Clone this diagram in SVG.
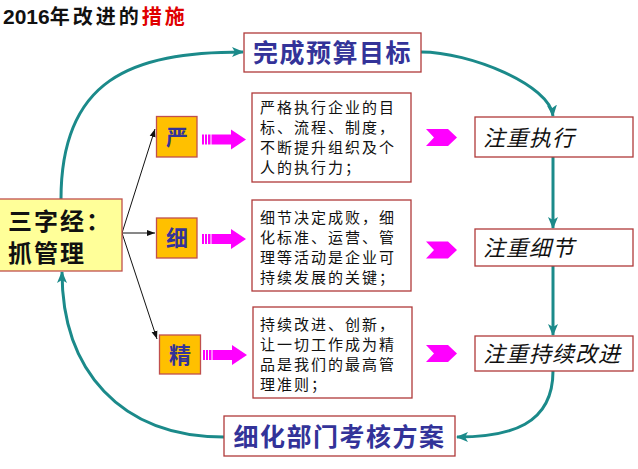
<svg xmlns="http://www.w3.org/2000/svg" width="638" height="469" viewBox="0 0 638 469">
<style>
.box{fill:#fff;stroke:#B03A3A;stroke-width:1.3}
.ybox{fill:#FFFF99;stroke:#C0504D;stroke-width:1.3}
.obox{fill:#FFC000;stroke:#C0504D;stroke-width:1.3}
.cjk{font-family:"Noto Sans CJK SC","Liberation Sans",sans-serif}
.blue{fill:#333399;font-weight:bold}
.body{font-size:15px;letter-spacing:2px;fill:#111}
.ital{font-size:22px;font-style:italic;letter-spacing:1px;fill:#111}
.teal{fill:none;stroke:#1B8A8A;stroke-width:3}
.thin{fill:none;stroke:#111;stroke-width:1}
.mag{fill:#FF00FF}
</style>
<defs>
<marker id="ta" markerUnits="userSpaceOnUse" markerWidth="12" markerHeight="12" viewBox="0 0 12 12" refX="11" refY="6" orient="auto">
<path d="M0,1 L12,6 L0,11 L3,6 Z" fill="#1B8A8A"/>
</marker>
<marker id="ba" markerUnits="userSpaceOnUse" markerWidth="8" markerHeight="8" viewBox="0 0 8 8" refX="8" refY="4" orient="auto">
<path d="M0,1 L8,4 L0,7 Z" fill="#111"/>
</marker>
<g id="fat">
<rect x="0" y="-5" width="2" height="10"/>
<rect x="3" y="-5" width="2" height="10"/>
<rect x="6" y="-5" width="2.5" height="10"/>
<path d="M9.5,-5 L29,-5 L29,-10 L44,0 L29,10 L29,5 L9.5,5 Z"/>
</g>
<path id="chev" d="M0,-8.5 L22,-8.5 L31,0 L22,8.5 L0,8.5 L8,0 Z"/>
</defs>

<text class="cjk" x="3" y="24" font-size="20" font-weight="bold" fill="#111"><tspan font-family="Liberation Sans,sans-serif" font-size="21">2016</tspan><tspan letter-spacing="3">年改进的</tspan><tspan letter-spacing="3" fill="#E00000">措施</tspan></text>

<g id="connectors">
<path class="teal" d="M61,199 C61,80 130,52 243,52" marker-end="url(#ta)"/>
<path class="teal" d="M421,52 C470,52 550,85 553,116" marker-end="url(#ta)"/>
<path class="teal" d="M553,157 L553,228" marker-end="url(#ta)"/>
<path class="teal" d="M553,266 L553,335" marker-end="url(#ta)"/>
<path class="teal" d="M553,371 C553,425 510,437 457,437" marker-end="url(#ta)"/>
<path class="teal" d="M224,437 C120,437 62,370 62,272" marker-end="url(#ta)"/>
<path class="thin" d="M122,233 L155,129" marker-end="url(#ba)"/>
<path class="thin" d="M122,233 L155,233" marker-end="url(#ba)"/>
<path class="thin" d="M122,233 L157,339" marker-end="url(#ba)"/>
<g class="mag">
<use href="#fat" x="202" y="139.5"/>
<use href="#fat" x="202" y="239"/>
<use href="#fat" x="203" y="355"/>
<use href="#chev" x="426" y="137.5"/>
<use href="#chev" x="426" y="250"/>
<use href="#chev" x="426" y="353.5"/>
</g>
</g>

<g id="goal">
<rect class="box" x="244" y="33" width="177" height="39"/>
<text class="cjk blue" x="332.5" y="62" font-size="25" letter-spacing="1.5" text-anchor="middle">完成预算目标</text>
</g>

<g id="sanzijing">
<rect class="ybox" x="-1" y="199" width="123" height="72"/>
<text class="cjk" x="8" y="230" font-size="24" font-weight="bold" letter-spacing="2" fill="#111">三字经：</text>
<text class="cjk" x="8" y="262" font-size="24" font-weight="bold" letter-spacing="2" fill="#111">抓管理</text>
</g>

<g id="yan">
<rect class="obox" x="156.5" y="116.5" width="40.5" height="40.5"/>
<text class="cjk blue" x="177" y="144.5" font-size="22" text-anchor="middle">严</text>
</g>
<g id="xi">
<rect class="obox" x="156.5" y="218" width="40.5" height="40"/>
<text class="cjk blue" x="177" y="246" font-size="22" text-anchor="middle">细</text>
</g>
<g id="jing">
<rect class="obox" x="159.5" y="335" width="41" height="39"/>
<text class="cjk blue" x="180" y="363" font-size="22" text-anchor="middle">精</text>
</g>

<g id="desc1">
<rect class="box" x="252" y="93" width="159" height="89"/>
<text class="cjk body"><tspan x="260" y="113">严格执行企业的目</tspan><tspan x="260" y="133">标、流程、制度，</tspan><tspan x="260" y="153">不断提升组织及个</tspan><tspan x="260" y="173">人的执行力；</tspan></text>
</g>
<g id="desc2">
<rect class="box" x="252" y="200" width="159" height="91"/>
<text class="cjk body"><tspan x="260" y="223">细节决定成败，细</tspan><tspan x="260" y="243">化标准、运营、管</tspan><tspan x="260" y="263">理等活动是企业可</tspan><tspan x="260" y="283">持续发展的关键；</tspan></text>
</g>
<g id="desc3">
<rect class="box" x="253" y="307" width="159" height="91"/>
<text class="cjk body"><tspan x="260" y="330">持续改进、创新，</tspan><tspan x="260" y="350">让一切工作成为精</tspan><tspan x="260" y="370">品是我们的最高管</tspan><tspan x="260" y="390">理准则；</tspan></text>
</g>

<g id="zhixing">
<rect class="box" x="475" y="117" width="158" height="40"/>
<text class="cjk ital" x="483" y="145.5">注重执行</text>
</g>
<g id="xijie">
<rect class="box" x="475" y="229" width="158" height="37"/>
<text class="cjk ital" x="483" y="256">注重细节</text>
</g>
<g id="gaijin">
<rect class="box" x="475" y="336" width="158" height="35"/>
<text class="cjk ital" x="483" y="361.5">注重持续改进</text>
</g>

<g id="kaohe">
<rect class="box" x="224" y="416" width="231" height="40"/>
<text class="cjk blue" x="339.5" y="445.5" font-size="25" letter-spacing="1.5" text-anchor="middle">细化部门考核方案</text>
</g>
</svg>
